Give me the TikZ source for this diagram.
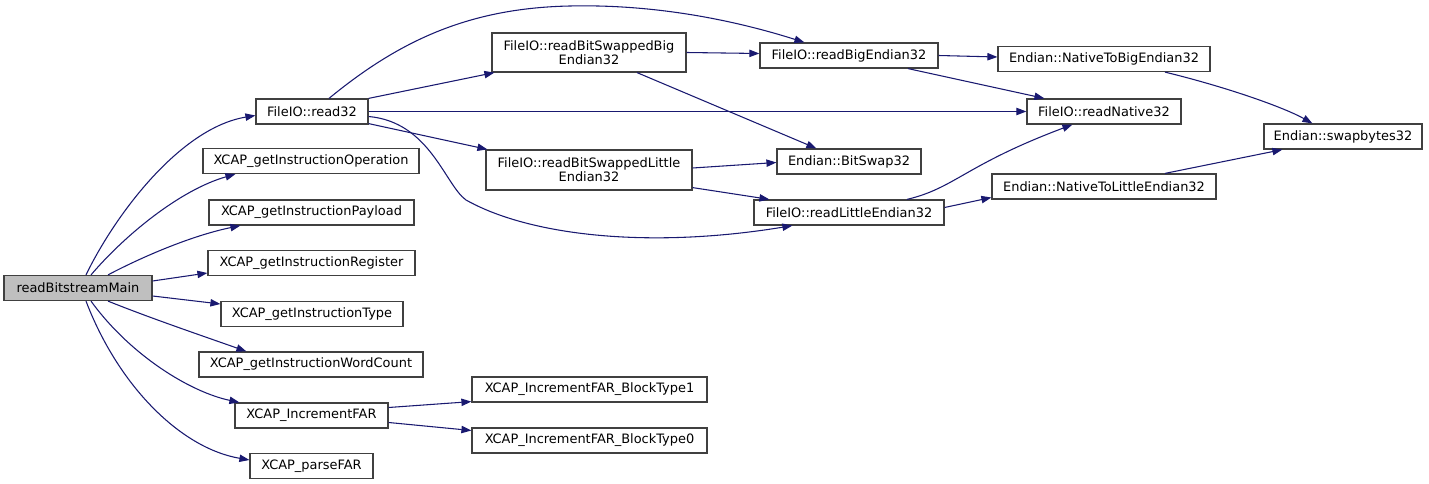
\documentclass[tikz,border=0pt]{standalone}
\usepackage{fontspec}
\setmainfont{DejaVu Sans}
\usepackage{xcolor}
\usepackage{tikz}
\usetikzlibrary{calc, arrows.meta}

\definecolor{edgeblue}{HTML}{191970}
\definecolor{boxline}{HTML}{404040}
\definecolor{rootfill}{HTML}{BFBFBF}

\begin{document}
\begin{tikzpicture}[x=0.75pt, y=-0.75pt,
    fn/.style={draw=boxline, line width=0.9pt, fill=white, inner sep=0pt,
      minimum height=18.75pt, align=center,
      font=\fontsize{9.7}{10.4}\selectfont},
    root/.style={fn, fill=rootfill},
    call/.style={draw=edgeblue, line width=0.8pt,
      -{Triangle[length=7.5pt, width=5.5pt]}}]
  \useasboundingbox (0,0) rectangle (1429,484);

  % Caller and first level
  \node[root, minimum width=148*0.75pt] (main) at (78,288) {readBitstreamMain};
  \node[fn, minimum width=112*0.75pt] (read32) at (312,111.5) {FileIO::read32};
  \node[fn, minimum width=216*0.75pt] (getop) at (311,161) {XCAP\_getInstructionOperation};
  \node[fn, minimum width=205*0.75pt] (getpay) at (311.5,212.5) {XCAP\_getInstructionPayload};
  \node[fn, minimum width=207*0.75pt] (getreg) at (311.5,263) {XCAP\_getInstructionRegister};
  \node[fn, minimum width=182*0.75pt] (gettype) at (312,314) {XCAP\_getInstructionType};
  \node[fn, minimum width=224*0.75pt] (getwc) at (311,364.5) {XCAP\_getInstructionWordCount};
  \node[fn, minimum width=153*0.75pt] (incfar) at (311.5,415.5) {XCAP\_IncrementFAR};
  \node[fn, minimum width=123*0.75pt] (parsefar) at (311.5,466) {XCAP\_parseFAR};

  % Second level
  \node[fn, minimum width=194*0.75pt, minimum height=39*0.75pt] (bsbig) at (589,52.5)
    {FileIO::readBitSwappedBig\\Endian32};
  \node[fn, minimum width=206*0.75pt, minimum height=40*0.75pt] (bslittle) at (589,170)
    {FileIO::readBitSwappedLittle\\Endian32};
  \node[fn, minimum width=235*0.75pt] (bt1) at (589.5,389.5) {XCAP\_IncrementFAR\_BlockType1};
  \node[fn, minimum width=235*0.75pt] (bt0) at (589.5,440.5) {XCAP\_IncrementFAR\_BlockType0};

  % Third level
  \node[fn, minimum width=178*0.75pt] (bigend) at (849,55.5) {FileIO::readBigEndian32};
  \node[fn, minimum width=144*0.75pt] (bitswap) at (849,161.5) {Endian::BitSwap32};
  \node[fn, minimum width=190*0.75pt] (littleend) at (849,212.5) {FileIO::readLittleEndian32};

  % Fourth and fifth level
  \node[fn, minimum width=212*0.75pt] (ntobig) at (1104,59) {Endian::NativeToBigEndian32};
  \node[fn, minimum width=154*0.75pt] (native) at (1104,111.5) {FileIO::readNative32};
  \node[fn, minimum width=224*0.75pt] (ntolittle) at (1104,186.5) {Endian::NativeToLittleEndian32};
  \node[fn, minimum width=158*0.75pt] (swapbytes) at (1343,136.5) {Endian::swapbytes32};

  % Calls from readBitstreamMain
  \draw[call] ($(main.north)+(8,0)$) .. controls (115,215) and (180,128) .. ($(read32.west)+(0,4)$);
  \draw[call] ($(main.north)+(13,0)$) .. controls (125,235) and (180,190) .. ($(getop.south west)+(33,0)$);
  \draw[call] ($(main.north)+(30,0)$) .. controls (140,258) and (190,236) .. ($(getpay.south west)+(32,0)$);
  \draw[call] ($(main.east)+(0,-7)$) -- ($(getreg.west)+(0,10)$);
  \draw[call] ($(main.east)+(0,8)$) -- ($(gettype.west)+(0,-10)$);
  \draw[call] ($(main.south)+(30,0)$) .. controls (150,318) and (200,335) .. ($(getwc.north west)+(48,0)$);
  \draw[call] ($(main.south)+(13,0)$) .. controls (130,355) and (190,392) .. ($(incfar.north west)+(5,0)$);
  \draw[call] ($(main.south)+(8,0)$) .. controls (118,385) and (180,448) .. ($(parsefar.west)+(0,-6)$);

  % Calls from FileIO::read32
  \draw[call] ($(read32.north)+(17,0)$) .. controls (400,40) and (470,8) .. (570,6)
    .. controls (660,4) and (740,22) .. ($(bigend.north west)+(45,0)$);
  \draw[call] (read32.north east) -- ($(bsbig.south west)+(3,0)$);
  \draw[call] (read32.east) -- (native.west);
  \draw[call] ($(read32.south east)+(0,-1)$) -- ($(bslittle.north west)+(2,0)$);
  \draw[call] ($(read32.east)+(0,5)$) .. controls (430,122) and (445,185) .. (466,200)
    .. controls (530,236) and (650,249) .. ($(littleend.south west)+(39,0)$);

  % Bit swapped readers
  \draw[call] (bsbig.east) -- ($(bigend.west)+(0,-2)$);
  \draw[call] ($(bsbig.south)+(48,0)$) -- ($(bitswap.north west)+(40,0)$);
  \draw[call] ($(bslittle.east)+(0,-2)$) -- ($(bitswap.west)+(0,1)$);
  \draw[call] ($(bslittle.south east)+(0,-3)$) -- ($(littleend.north west)+(16,0)$);

  % Endian readers
  \draw[call] (bigend.east) -- ($(ntobig.west)+(0,-2)$);
  \draw[call] ($(bigend.south)+(59,0)$) -- ($(native.north west)+(18,0)$);
  \draw[call] ($(littleend.north)+(58,0)$) .. controls (955,188) and (965,165) .. ($(native.south west)+(46,0)$);
  \draw[call] ($(littleend.east)+(0,-5)$) -- ($(ntolittle.west)+(0,11)$);
  \draw[call] ($(ntobig.south)+(61,0)$) .. controls (1230,88) and (1285,108) .. ($(swapbytes.north west)+(49,0)$);
  \draw[call] ($(ntolittle.north)+(61,0)$) -- ($(swapbytes.south west)+(19,0)$);

  % FAR increment
  \draw[call] ($(incfar.east)+(0,-8)$) -- ($(bt1.south west)+(0,-1)$);
  \draw[call] ($(incfar.east)+(0,7)$) -- ($(bt0.west)+(0,-10)$);
\end{tikzpicture}
\end{document}
